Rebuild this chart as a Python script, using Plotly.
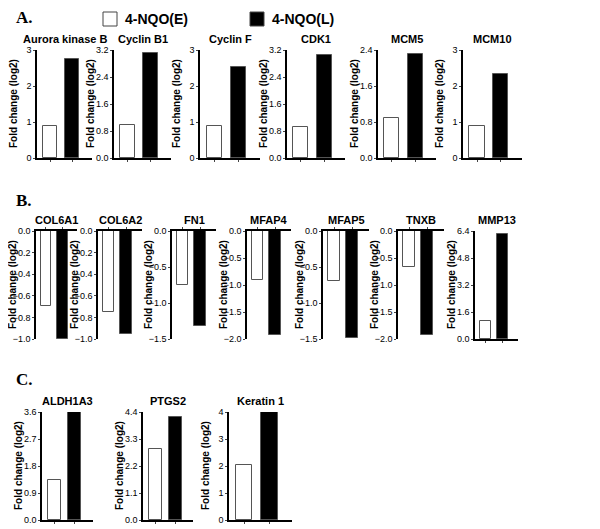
import plotly.graph_objects as go

W, H = 592, 521   # figure size; page body adds 8px margin
O = 8
groups = ["4-NQO(E)", "4-NQO(L)"]

genes_a = ["Aurora kinase B", "Cyclin B1", "Cyclin F", "CDK1", "MCM5", "MCM10"]
early_a = [0.88, 0.98, 0.90, 0.92, 0.88, 0.88]
late_a = [2.75, 3.10, 2.52, 3.05, 2.32, 2.33]
ymax_a = [3, 3.2, 3, 3.2, 2.4, 3]
dtick_a = [1, 0.8, 1, 0.8, 0.8, 1]
fmt_a = ["d", ".1f", "d", ".1f", ".1f", "d"]

genes_b = ["COL6A1", "COL6A2", "FN1", "MFAP4", "MFAP5", "TNXB", "MMP13"]
early_b = [-0.69, -0.75, -0.75, -0.90, -0.70, -0.67, 1.05]
late_b = [-1.00, -0.95, -1.32, -1.93, -1.48, -1.92, 6.25]
ylim_b = [-1.0, -1.0, -1.5, -2.0, -1.5, -2.0, 6.4]
dtick_b = [0.2, 0.2, 0.5, 0.5, 0.5, 0.5, 1.6]

genes_c = ["ALDH1A3", "PTGS2", "Keratin 1"]
early_c = [1.35, 2.90, 2.02]
late_c = [3.60, 4.20, 4.00]
ymax_c = [3.6, 4.4, 4]
dtick_c = [0.9, 1.1, 1]
fmt_c = [".1f", ".1f", "d"]

pos_a = [(37, 92), (114, 171), (200, 260), (287, 345), (378, 436), (463, 522)]
pos_b = [(36, 77), (98, 142), (172, 216), (247, 291), (323, 369), (398, 444), (475, 518)]
pos_c = [(42, 93), (143, 193), (229, 292)]
rows = [(50, 158), (231, 339), (412, 520)]

def px(x):
    return (x - O) / W

def py(y):
    return 1 - (y - O) / H

fig = go.Figure()
layout = {}
annos = []
tickfont = dict(family="Liberation Sans Narrow, Arial Narrow, Arial", size=9, color="black")
idx = [0]

def panel(name, e, l, x0, x1, y0, y1, yrange, dtick, fmt, neg):
    idx[0] += 1
    i = idx[0]
    sx = "" if i == 1 else str(i)
    fig.add_trace(go.Bar(x=[0, 1], y=[e, l], width=0.65,
                         marker=dict(color=["white", "black"], line=dict(color="#555", width=1)),
                         xaxis="x" + sx, yaxis="y" + sx, showlegend=False))
    layout["xaxis" + sx] = dict(domain=[px(x0), px(x1)], range=[-0.6, 1.9], showgrid=False,
                                zeroline=False, showline=True, linecolor="black", linewidth=1.5,
                                showticklabels=False, ticks="outside", ticklen=2, tickvals=[0, 1],
                                side="top" if neg else "bottom", automargin=False,
                                anchor="y" + sx, fixedrange=True)
    layout["yaxis" + sx] = dict(domain=[py(y1), py(y0)], range=yrange, showgrid=False,
                                zeroline=False, showline=True, linecolor="black", linewidth=1.5,
                                ticks="outside", ticklen=2, dtick=dtick, tickformat=fmt,
                                tickfont=tickfont, anchor="x" + sx, fixedrange=True, automargin=False)
    annos.append(dict(text="<b>" + name + "</b>", x=px((x0 + x1) / 2), y=py(y0 - 3),
                      xanchor="center", yanchor="bottom",
                      xref="paper", yref="paper", showarrow=False,
                      font=dict(family="Arial", size=11, color="black")))
    annos.append(dict(text="<b>Fold change (log2)</b>", x=px(x0 - 24), y=py((y0 + y1) / 2),
                      xanchor="center", yanchor="middle",
                      xref="paper", yref="paper", showarrow=False, textangle=-90,
                      font=dict(family="Arial", size=10, color="black")))

for k, g in enumerate(genes_a):
    panel(g, early_a[k], late_a[k], *pos_a[k], *rows[0], [0, ymax_a[k]], dtick_a[k], fmt_a[k], False)
for k, g in enumerate(genes_b):
    neg = ylim_b[k] < 0
    rng = [ylim_b[k], 0] if neg else [0, ylim_b[k]]
    panel(g, early_b[k], late_b[k], *pos_b[k], *rows[1], rng, dtick_b[k], ".1f", neg)
for k, g in enumerate(genes_c):
    panel(g, early_c[k], late_c[k], *pos_c[k], *rows[2], [0, ymax_c[k]], dtick_c[k], fmt_c[k], False)

for lab, y in [("A.", 18), ("B.", 200), ("C.", 380)]:
    annos.append(dict(text="<b>" + lab + "</b>", x=px(14), y=py(y), xref="paper", yref="paper",
                      showarrow=False, xanchor="left", yanchor="middle",
                      font=dict(family="Liberation Serif", size=17, color="black")))

shapes = []
for (sx0, col, txt) in [(103, "white", groups[0]), (250, "black", groups[1])]:
    shapes.append(dict(type="rect", xref="paper", yref="paper", x0=px(sx0), x1=px(sx0 + 14),
                       y0=py(26), y1=py(12), fillcolor=col, line=dict(color="#444", width=1)))
    annos.append(dict(text="<b>" + txt + "</b>", x=px(sx0 + 20), y=py(19), xref="paper", yref="paper",
                      showarrow=False, xanchor="left", yanchor="middle",
                      font=dict(family="Arial", size=14, color="black")))

fig.update_layout(width=W, height=H, margin=dict(l=0, r=0, t=0, b=0, autoexpand=False), plot_bgcolor="white",
                  paper_bgcolor="white", annotations=annos, shapes=shapes, bargap=0, **layout)
fig.write_html("out.html")
